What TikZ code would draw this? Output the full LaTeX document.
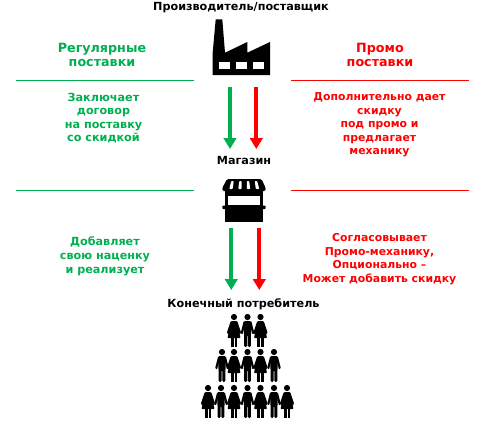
\documentclass[tikz,border=0pt]{standalone}
\usepackage{fontspec}
\setmainfont{DejaVu Sans}
\definecolor{regG}{HTML}{00B050}
\definecolor{promoR}{HTML}{FF0000}
\usetikzlibrary{arrows.meta}
\tikzset{
  lab/.style={align=center,inner sep=0pt,font=\fontsize{11.2}{13.6}\selectfont\bfseries},
  labr/.style={align=center,inner sep=0pt,font=\fontsize{10.85}{13.6}\selectfont\bfseries},
  head/.style={align=center,inner sep=0pt,font=\fontsize{12.7}{14.5}\selectfont\bfseries},
  rule/.style={line width=0.9pt},
  flow/.style={line width=4pt,-{Triangle[width=12.5pt,length=11pt]}},
  person/.pic={
    \fill (0,3) circle (3.1);
    \fill[rounded corners=1.2] (-3.8,7) -- (3.8,7) -- (3.5,20) -- (3.3,33) -- (0.4,33) -- (0.4,21) -- (-0.4,21) -- (-0.4,33) -- (-3.3,33) -- (-3.5,20) -- cycle;
    \fill[rounded corners=1] (-3.8,7) -- (-6.9,19.5) -- (-5,20.5) -- (-2.4,11) -- cycle;
    \fill[rounded corners=1] (3.8,7) -- (6.9,19.5) -- (5,20.5) -- (2.4,11) -- cycle;
  },
  womanfig/.pic={
    \fill (0,3) circle (3.1);
    \fill[rounded corners=0.8] (-3,7) -- (3,7) -- (6.5,24) -- (-6.5,24) -- cycle;
    \fill (-3.2,23) rectangle (-0.5,33);
    \fill (0.5,23) rectangle (3.2,33);
    \fill[rounded corners=1] (-3.2,7) -- (-7.2,19) -- (-5.5,20.5) -- (-2,11) -- cycle;
    \fill[rounded corners=1] (3.2,7) -- (7.2,19) -- (5.5,20.5) -- (2,11) -- cycle;
  }
}
\begin{document}
\begin{tikzpicture}[x=1pt,y=-1pt]
\useasboundingbox (0,0) rectangle (493,424);
\fill[white] (0,0) rectangle (493,424);

% titles
\node[lab] (supplier) at (241,7.5) {Производитель/поставщик};
\node[lab] (store) at (244,160) {Магазин};
\node[lab] (consumer) at (243.5,304) {Конечный потребитель};

% headings
\node[head,text=regG] (reg) at (102,55) {Регулярные\\поставки};
\node[head,text=promoR] (promo) at (380,55) {Промо\\поставки};

% rules
\coordinate (g1a) at (16,80); \coordinate (g1b) at (194,80);
\coordinate (r1a) at (291,80); \coordinate (r1b) at (469,80);
\coordinate (g2a) at (16,190); \coordinate (g2b) at (194,190);
\coordinate (r2a) at (291,190); \coordinate (r2b) at (469,190);
\draw[rule,regG] (g1a) -- (g1b);
\draw[rule,promoR] (r1a) -- (r1b);
\draw[rule,regG] (g2a) -- (g2b);
\draw[rule,promoR] (r2a) -- (r2b);

% side texts
\node[lab,text=regG] (t1) at (103.5,118.2) {Заключает\\договор\\на поставку\\со скидкой};
\node[labr,text=promoR] (t2) at (379.5,125) {Дополнительно дает\\скидку\\под промо и\\предлагает\\механику};
\node[lab,text=regG] (t3) at (105,256.2) {Добавляет\\свою наценку\\и реализует};
\node[labr,text=promoR] (t4) at (379.5,259) {Согласовывает\\Промо-механику,\\Опционально –\\Может добавить скидку};

% arrows
\coordinate (a1s) at (230,87); \coordinate (a1e) at (230,149);
\coordinate (a2s) at (256.3,87); \coordinate (a2e) at (256.3,149);
\coordinate (a3s) at (231.3,228); \coordinate (a3e) at (231.3,290);
\coordinate (a4s) at (259.3,228); \coordinate (a4e) at (259.3,290);
\draw[flow,regG] (a1s) -- (a1e);
\draw[flow,promoR] (a2s) -- (a2e);
\draw[flow,regG] (a3s) -- (a3e);
\draw[flow,promoR] (a4s) -- (a4e);

% factory
\fill[black] (212.7,75) -- (212.7,52.7) -- (215.7,19.3) -- (222.3,19.3) -- (225,52.7) -- (247.3,42) -- (247.3,52.7) -- (270,42) -- (270,75) -- cycle;
\fill[white] (219.3,62.3) rectangle (229.7,69.3);
\fill[white] (236.3,62.3) rectangle (247,69.3);
\fill[white] (253.3,62.3) rectangle (263.7,69.3);

% shop
\fill[black,rounded corners=1.5] (227,179) -- (261.5,179) -- (265.7,188) -- (265.7,191) -- (222.3,191) -- (222.3,188) -- cycle;
\foreach \xa/\xb in {232.5/231,240.5/240,248/248.5,256/257.5}
  \fill[white,rounded corners=0.8] (\xa-1.2,181) -- (\xa+1.2,181) -- (\xb+1.7,189) -- (\xb-1.7,189) -- cycle;
\fill[black] (225,191) rectangle (263.3,221.7);
\fill[white] (228.3,195.7) rectangle (260,205);
\fill[black,rounded corners=0.8] (222.3,205.7) rectangle (265.7,209);

% crowd
\foreach \x/\y in {234/314,260.5/314,234/349,260.5/349,208/385,234/385,260.5/385,287/385}
  \path (\x,\y) pic {womanfig};
\foreach \x/\y in {247.5/314,222/349,247.5/349,274/349,221/385,247.5/385,274/385}
  \path (\x,\y) pic {person};
\end{tikzpicture}
\end{document}
